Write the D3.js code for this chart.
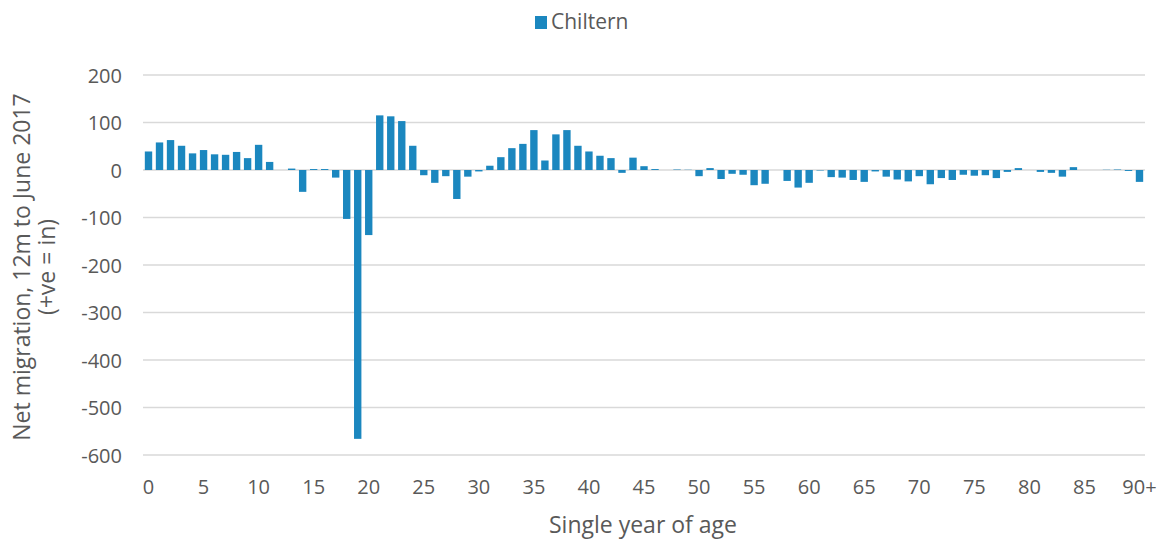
<!DOCTYPE html>
<html><head><meta charset="utf-8">
<script src="https://cdn.jsdelivr.net/npm/d3@7"></script>
<style>body{margin:0;background:#fff}svg{display:block}text{font-family:"Open Sans",sans-serif;fill:#595959}</style>
</head><body><svg id="c" width="1162" height="540"></svg>
<script>
const ages = d3.range(0, 91).map(i => i === 90 ? "90+" : String(i));
const values = [
  39, 58, 63, 51, 35, 42, 33, 32, 38, 25,
  53, 17, 0, 3, -46, 2, 2, -16, -103, -566,
  -137, 115, 113, 103, 51, -11, -27, -13, -61, -14,
  -3, 9, 27, 46, 55, 84, 20, 75, 84, 51,
  39, 30, 25, -6, 26, 8, 2, 0, 1, 0.5,
  -13, 4, -19, -8, -10, -32, -29, 0, -23, -37,
  -27, -1, -15, -16, -21, -25, -3, -14, -20, -24,
  -13, -30, -17, -21, -10, -12, -11, -17, -4, 4,
  0, -4, -6, -14, 6, 0, 0, 0.5, 1, -2,
  -25
];
const yTicks = [200, 100, 0, -100, -200, -300, -400, -500, -600];
const xTickLabels = ["0","5","10","15","20","25","30","35","40","45","50","55","60","65","70","75","80","85","90+"];
const seriesName = "Chiltern";
const yTitle = ["Net migration, 12m to June 2017", "(+ve = in)"];
const xTitle = "Single year of age";

const svg = d3.select("#c");
const x = d3.scaleBand().domain(ages).range([143, 1145]).paddingInner(0.33).paddingOuter(0.165);
const y = d3.scaleLinear().domain([-600, 200]).range([455, 75]);
const color = "#1b87bf";

// gridlines
svg.append("g").selectAll("line").data(yTicks).join("line")
  .attr("x1", 143).attr("x2", 1145)
  .attr("y1", d => y(d)).attr("y2", d => y(d))
  .attr("stroke", "#d9d9d9").attr("stroke-width", 1.3);

// bars
svg.append("g").selectAll("rect").data(values).join("rect")
  .attr("x", (d, i) => x(ages[i]))
  .attr("width", x.bandwidth())
  .attr("y", d => y(Math.max(0, d)))
  .attr("height", d => Math.abs(y(d) - y(0)))
  .attr("fill", color);

// y axis labels
const yAxis = d3.axisLeft(y).tickValues(yTicks).tickFormat(d => String(d)).tickSize(0).tickPadding(0);
const gy = svg.append("g").attr("transform", "translate(122,0)").call(yAxis);
gy.select(".domain").remove();
gy.selectAll("text").attr("font-size", 20).attr("fill", "#595959").attr("font-family", "Open Sans, sans-serif").attr("dy", "0.36em");

// x axis labels
const xAxis = d3.axisBottom(x).tickValues(xTickLabels).tickSize(0).tickPadding(0);
const gx = svg.append("g").attr("transform", "translate(0,494)").call(xAxis);
gx.select(".domain").remove();
gx.selectAll("text").attr("font-size", 20).attr("fill", "#595959").attr("font-family", "Open Sans, sans-serif").attr("y", 0).attr("dy", 0);

// titles
svg.append("text").attr("x", 643).attr("y", 533).attr("text-anchor", "middle").attr("font-size", 23).text(xTitle);
svg.append("text").attr("transform", "translate(30,267) rotate(-90)").attr("text-anchor", "middle").attr("font-size", 23).text(yTitle[0]);
svg.append("text").attr("transform", "translate(55,267) rotate(-90)").attr("text-anchor", "middle").attr("font-size", 23).text(yTitle[1]);

// legend
svg.append("rect").attr("x", 535).attr("y", 16).attr("width", 12).attr("height", 13).attr("fill", color);
svg.append("text").attr("x", 551).attr("y", 29).attr("font-size", 21).text(seriesName);
</script></body></html>
